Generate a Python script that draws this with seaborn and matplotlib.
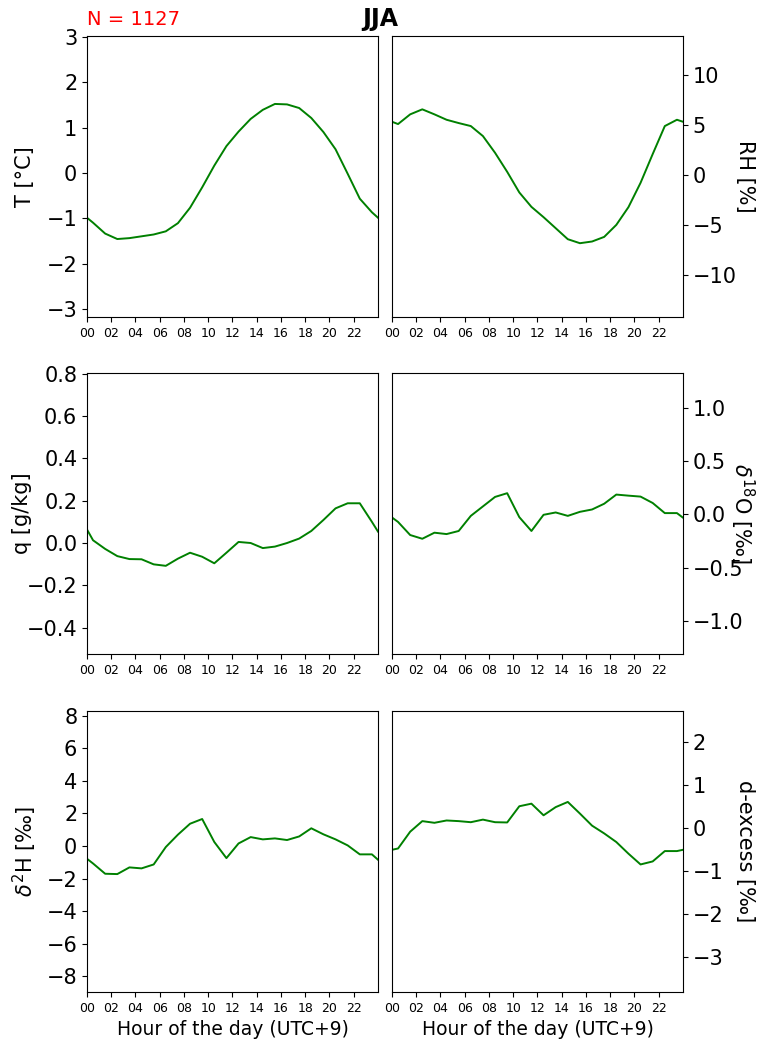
import matplotlib
matplotlib.use("Agg")
import matplotlib.pyplot as plt
import numpy as np
import pandas as pd
import seaborn as sns

# hour positions (half-hour centres, plus the day edges)
hours = [0, 0.5, 1.5, 2.5, 3.5, 4.5, 5.5, 6.5, 7.5, 8.5, 9.5, 10.5, 11.5,
         12.5, 13.5, 14.5, 15.5, 16.5, 17.5, 18.5, 19.5, 20.5, 21.5, 22.5, 23.5, 24]

temp = [-0.99, -1.10, -1.34, -1.46, -1.44, -1.40, -1.36, -1.29, -1.11, -0.77, -0.32, 0.16, 0.59,
        0.91, 1.19, 1.39, 1.52, 1.51, 1.43, 1.21, 0.90, 0.52, -0.02, -0.57, -0.87, -0.99]
rh = [5.33, 5.10, 6.07, 6.57, 6.07, 5.53, 5.20, 4.90, 3.90, 2.23, 0.33, -1.73, -3.17,
      -4.20, -5.30, -6.40, -6.80, -6.63, -6.17, -4.97, -3.20, -0.77, 2.10, 4.90, 5.53, 5.33]
q = [0.064, 0.013, -0.028, -0.062, -0.076, -0.077, -0.101, -0.108, -0.074, -0.046, -0.065, -0.096, -0.046,
     0.005, 0.000, -0.024, -0.017, 0.000, 0.021, 0.057, 0.109, 0.164, 0.188, 0.188, 0.100, 0.054]
d18o = [-0.028, -0.07, -0.193, -0.228, -0.171, -0.184, -0.155, -0.013, 0.076, 0.165, 0.200, -0.025, -0.155,
        -0.003, 0.019, -0.013, 0.025, 0.047, 0.101, 0.187, 0.177, 0.168, 0.108, 0.013, 0.013, -0.030]
d2h = [-0.78, -1.07, -1.70, -1.72, -1.31, -1.37, -1.13, -0.06, 0.70, 1.37, 1.66, 0.25, -0.74,
       0.16, 0.55, 0.41, 0.47, 0.37, 0.59, 1.09, 0.72, 0.41, 0.04, -0.51, -0.51, -0.84]
dex = [-0.51, -0.48, -0.09, 0.155, 0.116, 0.17, 0.155, 0.13, 0.19, 0.13, 0.124, 0.50, 0.56,
       0.29, 0.48, 0.60, 0.33, 0.05, -0.13, -0.33, -0.60, -0.85, -0.78, -0.54, -0.54, -0.51]

panels = [
    (temp, "T [°C]", (-3.18, 3.02), [-3, -2, -1, 0, 1, 2, 3], -0.213),
    (rh, "RH [%]", (-14.17, 13.9), [-10, -5, 0, 5, 10], 1.213),
    (q, "q [g/kg]", (-0.525, 0.805), [-0.4, -0.2, 0.0, 0.2, 0.4, 0.6, 0.8], -0.223),
    (d18o, r"$\delta^{18}$O [‰]", (-1.31, 1.33), [-1.0, -0.5, 0.0, 0.5, 1.0], 1.203),
    (d2h, r"$\delta^{2}$H [‰]", (-8.96, 8.29), [-8, -6, -4, -2, 0, 2, 4, 6, 8], -0.213),
    (dex, "d-excess [‰]", (-3.81, 2.71), [-3, -2, -1, 0, 1, 2], 1.213),
]

xtick_pos = list(range(0, 24, 2))
xtick_labels = ["%02d" % h for h in xtick_pos]

fig = plt.figure(figsize=(7.61, 10.39), dpi=100)

lefts = [0.1143, 0.5151]
bottoms = [0.6949, 0.3706, 0.0452]
w, h = 0.3824, 0.2705

for i, (vals, label, ylim, yticks, lab_x) in enumerate(panels):
    row, col = i // 2, i % 2
    ax = fig.add_axes([lefts[col], bottoms[row], w, h])
    df = pd.DataFrame({"hour": hours, "value": vals})
    sns.lineplot(data=df, x="hour", y="value", color="green", linewidth=1.4, ax=ax)
    ax.set_xlim(0, 24)
    ax.set_ylim(*ylim)
    ax.set_xticks(xtick_pos)
    ax.set_xticklabels(xtick_labels, fontsize=9)
    ax.set_yticks(yticks)
    ax.tick_params(axis="y", labelsize=15)
    if row == 2:
        ax.set_xlabel("Hour of the day (UTC+9)", fontsize=13.5)
    else:
        ax.set_xlabel("")
    if col == 1:
        ax.yaxis.tick_right()
        ax.yaxis.set_label_position("right")
        ax.set_ylabel(label, fontsize=15, rotation=270, ha="center", va="center")
    else:
        ax.set_ylabel(label, fontsize=15, ha="center", va="center")
    ax.yaxis.set_label_coords(lab_x, 0.5)
    if i == 0:
        ax.text(0.0, 1.025, "N = 1127", color="red", fontsize=14,
                transform=ax.transAxes, ha="left", va="bottom")

fig.suptitle("JJA", fontsize=17, fontweight="bold", x=0.5, y=0.993)

fig.savefig("out.png", dpi=100)
